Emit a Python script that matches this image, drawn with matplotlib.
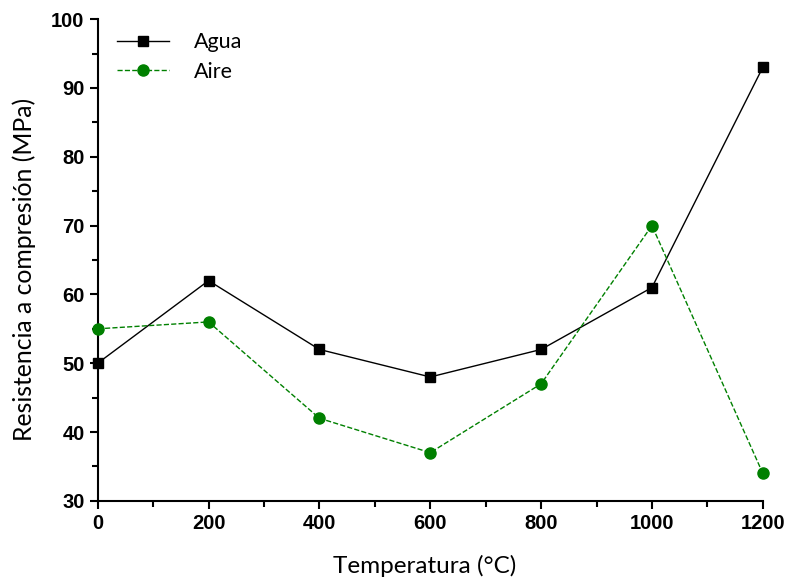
import matplotlib.pyplot as plt
from matplotlib.ticker import MultipleLocator

# Data
temperatura = [0, 200, 400, 600, 800, 1000, 1200]
agua = [50, 62, 52, 48, 52, 61, 93]
aire = [55, 56, 42, 37, 47, 70, 34]

fig = plt.figure(figsize=(7.88, 5.81), dpi=100)
ax = fig.add_axes([0.124, 0.138, 0.844, 0.829])

ax.plot(temperatura, agua, color="black", linestyle="-", linewidth=1.0,
        marker="s", markersize=7, label="Agua", clip_on=False, zorder=3)
ax.plot(temperatura, aire, color="#008000", linestyle="--", linewidth=1.0,
        marker="o", markersize=8, label="Aire", clip_on=False, zorder=3)

ax.set_xlim(0, 1200)
ax.set_ylim(30, 100)
ax.xaxis.set_major_locator(MultipleLocator(200))
ax.xaxis.set_minor_locator(MultipleLocator(100))
ax.yaxis.set_major_locator(MultipleLocator(10))
ax.yaxis.set_minor_locator(MultipleLocator(5))

for side in ["top", "right"]:
    ax.spines[side].set_visible(False)
for side in ["left", "bottom"]:
    ax.spines[side].set_linewidth(1.5)

ax.tick_params(which="major", direction="out", length=6, width=1.5)
ax.tick_params(which="minor", direction="out", length=4, width=1.5)
for lbl in ax.get_xticklabels() + ax.get_yticklabels():
    lbl.set_fontfamily("Liberation Sans")
    lbl.set_fontweight("bold")
    lbl.set_fontsize(14.5)

ax.set_xlabel("Temperatura (°C)", fontfamily="Lato", fontsize=17.5, labelpad=16)
ax.set_ylabel("Resistencia a compresión (MPa)", fontfamily="Lato", fontsize=17.8, labelpad=11)
ax.xaxis.label.set_x(0.492)
ax.yaxis.label.set_y(0.48)

ax.legend(loc="upper left", frameon=False, prop={"family": "Lato", "size": 15.5},
          handlelength=2.4, handletextpad=1.15, borderaxespad=0.2,
          labelspacing=0.45, bbox_to_anchor=(0.01, 1.0))

fig.savefig("out.png", dpi=100)
